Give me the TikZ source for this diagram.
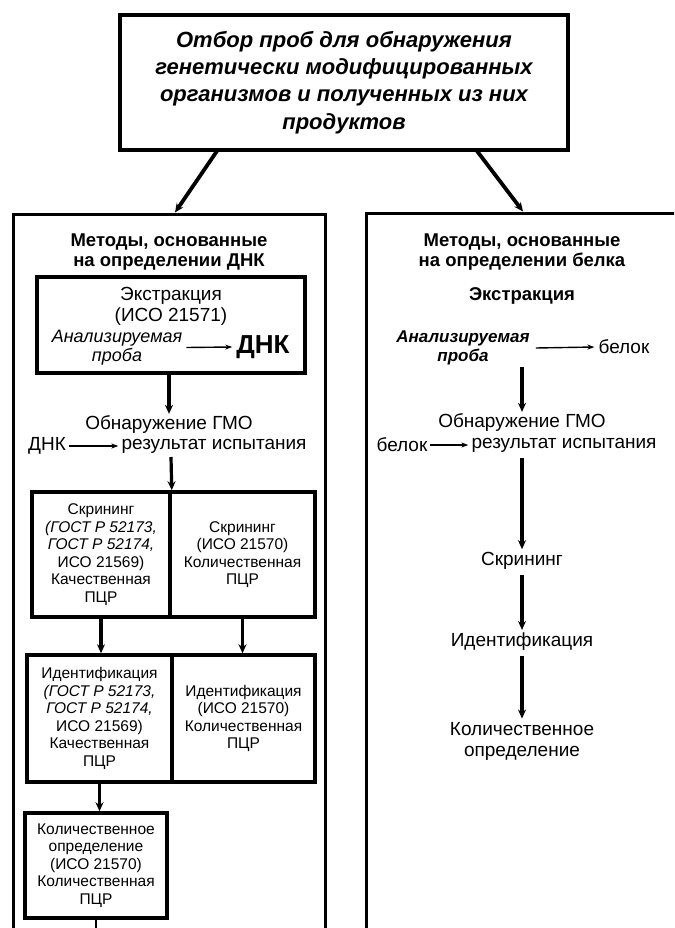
\documentclass[tikz,border=0pt]{standalone}
\usepackage{fontspec}
\setmainfont{Liberation Sans}
\usetikzlibrary{arrows.meta}
\begin{document}
\begin{tikzpicture}[x=1pt,y=-1pt,
  frame/.style={draw, line width=3pt, inner sep=0pt},
  part/.style={draw, line width=3.5pt, inner sep=0pt, align=center, font=\fontsize{15.5}{17.5}\selectfont},
  txt/.style={inner sep=0pt, align=center, font=\fontsize{19}{20.5}\selectfont},
  head/.style={txt, font=\bfseries\fontsize{18.5}{20.5}\selectfont},
  bigarrow/.style={-{Stealth[length=9pt,width=8pt]}, line width=3.2pt},
  smallarrow/.style={-{Stealth[length=7pt,width=5pt]}, line width=1.4pt}]
\useasboundingbox (0,0) rectangle (674,928);
\clip (0,0) rectangle (674,928);
\fill[white] (0,0) rectangle (674,928);

% top box
\node[frame, line width=4pt, minimum width=448pt, minimum height=135pt, align=center,
      font=\bfseries\itshape\fontsize{22}{27.3}\selectfont] (top) at (344,82.5)
  {Отбор проб для обнаружения\\генетически модифицированных\\организмов и полученных из них\\продуктов};

% outer columns
\node[frame, minimum width=312pt, minimum height=740pt] (lout) at (169,584) {};
\node[frame, minimum width=334pt, minimum height=742pt] (rout) at (533,584) {};

\coordinate (ta) at (217,151);
\coordinate (tb) at (477,151);
\draw[bigarrow, line width=3.8pt] (ta) -- (lout.north -| 175,0);
\draw[bigarrow, line width=3.8pt] (tb) -- (rout.north -| 523,0);

% ---------- left column ----------
\node[head] (lh) at (169,252) {Методы, основанные\\на определении ДНК};
\node[frame, line width=3.5pt, minimum width=268pt, minimum height=96pt] (ext) at (171,325) {};
\node[txt] (extt) at (171,306.5) {Экстракция\\(ИСО 21571)};
\node[txt, font=\itshape\fontsize{18}{19}\selectfont] (an1) at (117,347.5) {Анализируемая\\проба};
\node[inner sep=0pt, font=\bfseries\fontsize{26}{28}\selectfont] (dna) at (263,347) {ДНК};
\draw[smallarrow] ([xshift=4pt]an1.east) -- ([xshift=-4pt]dna.west);

\node[txt] (det1) at (169,425) {Обнаружение ГМО};
\node[txt] (dna2) at (47,446) {ДНК};
\node[txt] (res1) at (214,446) {результат испытания};
\draw[smallarrow] ([xshift=3pt]dna2.east) -- ([xshift=-3pt]res1.west);
\draw[bigarrow] (ext.south -| det1.north) -- ([yshift=2pt]det1.north);

\node[part, minimum width=138pt, minimum height=125pt] (scr1) at (101,554.5)
  {Скрининг\\\textit{(ГОСТ Р 52173,}\\\textit{ГОСТ Р 52174,}\\ИСО 21569)\\Качественная\\ПЦР};
\node[part, minimum width=145pt, minimum height=125pt] (scr2) at (242.5,554.5)
  {Скрининг\\(ИСО 21570)\\Количественная\\ПЦР};
\coordinate (c1) at (171,457);
\draw[bigarrow] (c1) -- (scr1.north east);

\node[part, minimum width=145pt, minimum height=127pt] (id1) at (99.5,718.5)
  {Идентификация\\\textit{(ГОСТ Р 52173,}\\\textit{ГОСТ Р 52174,}\\ИСО 21569)\\Качественная\\ПЦР};
\node[part, minimum width=143pt, minimum height=127pt] (id2) at (243.5,718.5)
  {Идентификация\\(ИСО 21570)\\Количественная\\ПЦР};
\draw[bigarrow] (scr1.south) -- (scr1.south |- id1.north);
\draw[bigarrow] (scr2.south) -- (scr2.south |- id2.north);

\node[part, minimum width=142pt, minimum height=105pt] (q1) at (96,865.5)
  {Количественное\\определение\\(ИСО 21570)\\Количественная\\ПЦР};
\draw[bigarrow] (id1.south) -- (id1.south |- q1.north);
\coordinate (qend) at (96,935);
\draw[line width=1.5pt] (q1.south) -- (qend);

% ---------- right column ----------
\node[head] (rh) at (522,252) {Методы, основанные\\на определении белка};
\node[head] (ext2) at (522,296) {Экстракция};
\node[txt, font=\bfseries\itshape\fontsize{17}{19}\selectfont] (an2) at (463,348) {Анализируемая\\проба};
\node[txt] (bel) at (624,347) {белок};
\draw[smallarrow] ([xshift=6pt]an2.east) -- ([xshift=-4pt]bel.west);

\node[txt] (det2) at (522,423) {Обнаружение ГМО};
\coordinate (r1) at (522,367);
\draw[bigarrow] (r1) -- ([yshift=2pt]det2.north);
\node[txt] (bel2) at (402,445) {белок};
\node[txt] (res2) at (564,445) {результат испытания};
\draw[smallarrow] ([xshift=2pt]bel2.east) -- ([xshift=-3pt]res2.west);

\node[txt] (scrR) at (522,561) {Скрининг};
\node[txt] (idR) at (522,642) {Идентификация};
\node[txt] (qR) at (522,741.5) {Количественное\\определение};
\coordinate (r2) at (522,458);
\draw[bigarrow] (r2) -- ([yshift=3pt]scrR.north);
\draw[bigarrow] ([yshift=-5pt]scrR.south) -- ([yshift=3pt]idR.north);
\draw[bigarrow] ([yshift=-5pt]idR.south) -- ([yshift=4pt]qR.north);
\end{tikzpicture}
\end{document}
